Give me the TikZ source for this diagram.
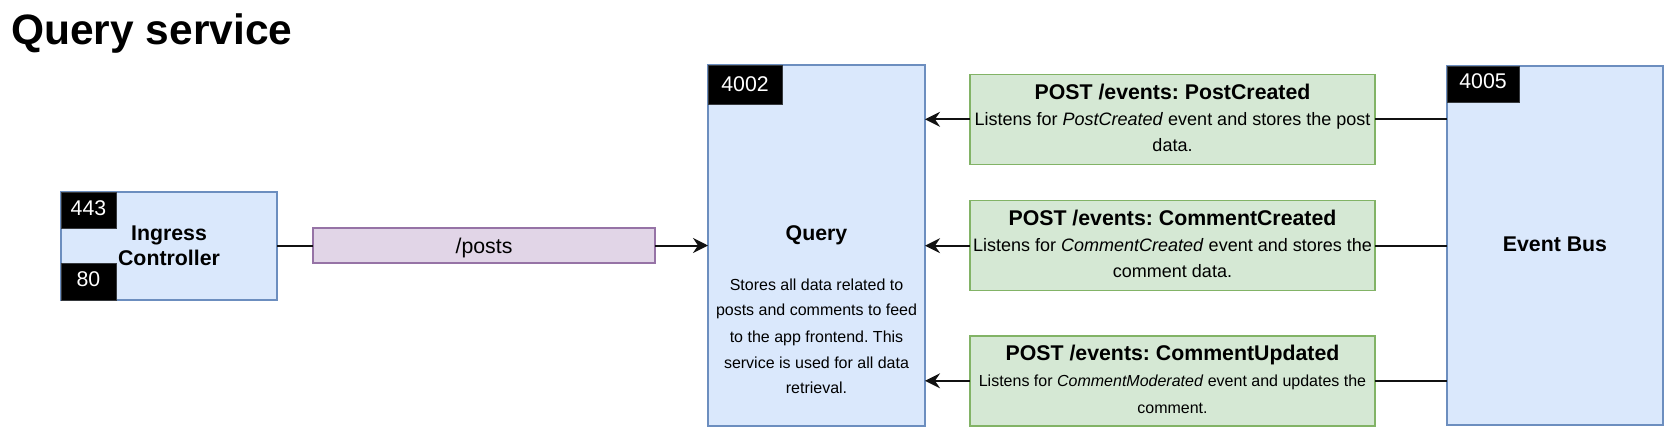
\documentclass[tikz,border=0pt]{standalone}
\usepackage{fontspec}
\setmainfont{Liberation Sans}
\usetikzlibrary{arrows.meta}
\definecolor{bluefill}{HTML}{DAE8FC}
\definecolor{bluedraw}{HTML}{6C8EBF}
\definecolor{greenfill}{HTML}{D5E8D4}
\definecolor{greendraw}{HTML}{82B366}
\definecolor{purplefill}{HTML}{E1D5E7}
\definecolor{purpledraw}{HTML}{9673A6}
\definecolor{portdraw}{HTML}{36393D}
\definecolor{linecol}{HTML}{111111}
\frenchspacing
\begin{document}
\begin{tikzpicture}[x=1pt,y=-1pt,
  box/.style={draw, line width=1.4, inner sep=0, outer sep=0},
  bluebox/.style={box, fill=bluefill, draw=bluedraw},
  greenbox/.style={box, fill=greenfill, draw=greendraw, minimum width=405, minimum height=90},
  purplebox/.style={box, fill=purplefill, draw=purpledraw},
  portbox/.style={fill=black, draw=portdraw, line width=1, inner sep=0, outer sep=0},
  txt/.style={anchor=base, inner sep=0, outer sep=0},
  boldlbl/.style={txt, font=\fontsize{21.3}{25}\selectfont\bfseries},
  portlbl/.style={txt, text=white, font=\fontsize{21.3}{25}\selectfont},
  desc/.style={txt, font=\fontsize{18}{26}\selectfont},
  smalldesc/.style={txt, font=\fontsize{16}{26}\selectfont},
  conn/.style={draw=linecol, line width=2},
  arr/.style={conn, -{Stealth[length=15pt,width=15pt,inset=5pt]}}
]
\useasboundingbox (0,0) rectangle (1678,445);

% title
\node[anchor=base west, inner sep=0, font=\fontsize{42.5}{50}\selectfont\bfseries] (title) at (11,44) {Query service};

% ingress controller
\node[bluebox, minimum width=216, minimum height=108] (ingress) at (169,246) {};
\node[portbox, minimum width=55, minimum height=36] (p443) at (88.5,210) {};
\node[portbox, minimum width=55, minimum height=37] (p80) at (88.5,281.5) {};
\node[portlbl] (t443) at (88.5,215) {443};
\node[portlbl] (t80) at (88.5,286.7) {80};
\node[boldlbl] (ing1) at (169,240) {Ingress};
\node[boldlbl] (ing2) at (169,265) {Controller};

% /posts
\node[purplebox, minimum width=342, minimum height=35] (posts) at (484,245.5) {};
\node[txt, font=\fontsize{21.3}{25}\selectfont] (poststxt) at (484,253) {/posts};

% query
\node[bluebox, minimum width=217, minimum height=361] (query) at (816.5,245.5) {};
\node[portbox, minimum width=74, minimum height=39] (p4002) at (745,84.5) {};
\node[portlbl] (t4002) at (745,91.7) {4002};
\node[boldlbl] (qname) at (816.5,240) {Query};
\node[smalldesc] (q1) at (816.5,290) {Stores all data related to};
\node[smalldesc] (q2) at (816.5,315.7) {posts and comments to feed};
\node[smalldesc] (q3) at (816.5,342) {to the app frontend. This};
\node[smalldesc] (q4) at (816.5,368) {service is used for all data};
\node[smalldesc] (q5) at (816.5,393) {retrieval.};

% event bus
\node[bluebox, minimum width=216, minimum height=359] (bus) at (1555,245.5) {};
\node[portbox, minimum width=72, minimum height=36] (p4005) at (1483,84) {};
\node[portlbl] (t4005) at (1483,88.3) {4005};
\node[boldlbl] (busname) at (1555,251.7) {Event Bus};

% green event handlers
\node[greenbox] (g1) at (1172.5,119.3) {};
\node[boldlbl] (g1t) at (1172.5,99.3) {POST /events: PostCreated};
\node[desc] (g1a) at (1172.5,125) {Listens for \textit{PostCreated} event and stores the post};
\node[desc] (g1b) at (1172.5,151.7) {data.};

\node[greenbox] (g2) at (1172.5,245.7) {};
\node[boldlbl] (g2t) at (1172.5,225) {POST /events: CommentCreated};
\node[desc] (g2a) at (1172.5,251.7) {Listens for \textit{CommentCreated} event and stores the};
\node[desc] (g2b) at (1172.5,277) {comment data.};

\node[greenbox] (g3) at (1172.5,380.8) {};
\node[boldlbl] (g3t) at (1172.5,360) {POST /events: CommentUpdated};
\node[smalldesc] (g3a) at (1172.5,386.7) {Listens for \textit{CommentModerated} event and updates the};
\node[smalldesc] (g3b) at (1172.5,413.3) {comment.};

% connectors
\draw[conn] (ingress.east |- posts.west) -- (posts.west);
\draw[arr] (posts.east) -- (posts.east -| query.west);

\draw[conn] (g1.east -| bus.west) -- (g1.east);
\draw[arr] (g1.west) -- (g1.west -| query.east);
\draw[conn] (g2.east -| bus.west) -- (g2.east);
\draw[arr] (g2.west) -- (g2.west -| query.east);
\draw[conn] (g3.east -| bus.west) -- (g3.east);
\draw[arr] (g3.west) -- (g3.west -| query.east);
\end{tikzpicture}
\end{document}
